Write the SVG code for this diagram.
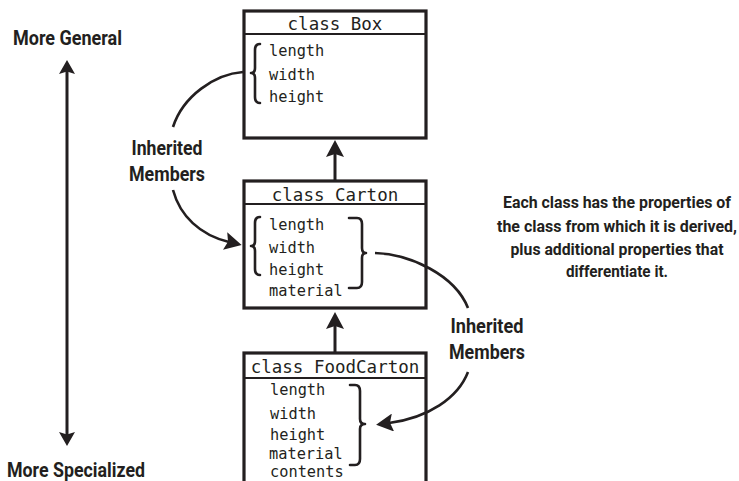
<svg xmlns="http://www.w3.org/2000/svg" width="739" height="481" viewBox="0 0 739 481">
<style>
.bg{fill:#ffffff}
.box{fill:#ffffff;stroke:#231f20;stroke-width:3.2}
.div{stroke:#231f20;stroke-width:2.2}
.mono{font-family:"DejaVu Sans Mono","Liberation Mono",monospace;fill:#231f20}
.hdr{font-size:17.5px;text-anchor:middle}
.mem{font-size:15.3px}
.lbl{font-family:Roboto,"Liberation Sans",Arial,sans-serif;font-weight:bold;fill:#231f20}
.big{font-size:19.5px}
.note{font-size:16px;text-anchor:middle}
.mid{text-anchor:middle}
.brace{fill:none;stroke:#231f20;stroke-width:2.6;stroke-linecap:round;stroke-linejoin:round}
.line{fill:none;stroke:#231f20;stroke-width:3}
.curve{fill:none;stroke:#231f20;stroke-width:2.6}
</style>
<defs>
<marker id="arr" viewBox="0 0 17 18" refX="4" refY="9" markerWidth="17" markerHeight="18" markerUnits="userSpaceOnUse" orient="auto">
<path d="M0,0 L17,9 L0,18 L3,9 z" fill="#231f20"/>
</marker>
<marker id="arrs" viewBox="0 0 14 16" refX="3" refY="8" markerWidth="14" markerHeight="16" markerUnits="userSpaceOnUse" orient="auto-start-reverse">
<path d="M0,0 L14,8 L0,16 L2.5,8 z" fill="#231f20"/>
</marker>
</defs>
<rect class="bg" x="0" y="0" width="739" height="481"/>

<g id="box">
<rect class="box" x="244" y="11" width="182" height="127"/>
<line class="div" x1="244" y1="34" x2="426" y2="34"/>
<text class="mono hdr" x="335" y="30">class Box</text>
<text class="mono mem" x="269" y="56">length</text>
<text class="mono mem" x="269" y="80">width</text>
<text class="mono mem" x="269" y="102">height</text>
<path class="brace" d="M260,44 Q255,44 255,50 L255,68 Q255,73 251,73 Q255,73 255,78 L255,97 Q255,103 260,103"/>
</g>

<g id="carton">
<rect class="box" x="244" y="181" width="182" height="127"/>
<line class="div" x1="244" y1="204" x2="426" y2="204"/>
<text class="mono hdr" x="335" y="201">class Carton</text>
<text class="mono mem" x="269" y="230">length</text>
<text class="mono mem" x="269" y="253">width</text>
<text class="mono mem" x="269" y="275">height</text>
<text class="mono mem" x="269" y="296">material</text>
<path class="brace" d="M260,217 Q255,217 255,223 L255,241 Q255,246 251,246 Q255,246 255,251 L255,269 Q255,275 260,275"/>
<path class="brace" d="M349,218 L357,218 Q362,218 362,224 L362,248 Q362,253 366,253 Q362,253 362,258 L362,282 Q362,288 357,288 L349,288"/>
</g>

<g id="foodcarton">
<rect class="box" x="244" y="353" width="182" height="140"/>
<line class="div" x1="244" y1="378" x2="426" y2="378"/>
<text class="mono hdr" x="335" y="373">class FoodCarton</text>
<text class="mono mem" x="270" y="395">length</text>
<text class="mono mem" x="270" y="419">width</text>
<text class="mono mem" x="270" y="440">height</text>
<text class="mono mem" x="269" y="459">material</text>
<text class="mono mem" x="270" y="477">contents</text>
<path class="brace" d="M350,385 L355,385 Q360,385 360,391 L360,419 Q360,424 365,424 Q360,424 360,429 L360,459 Q360,465 355,465 L350,465"/>
</g>

<g id="connectors">
<path class="line" d="M335,181 L335,153" marker-end="url(#arr)"/>
<path class="line" d="M335,353 L335,325" marker-end="url(#arr)"/>
<path class="line" d="M67,71 L67,435" marker-start="url(#arrs)" marker-end="url(#arrs)"/>
<path class="curve" d="M243,72 C215,74 183,96 173,127"/>
<path class="curve" d="M173,190 C180,216 200,235 229,242" marker-end="url(#arr)"/>
<path class="curve" d="M375,253 C410,254 455,275 468,308"/>
<path class="curve" d="M468,372 C458,398 428,418 389,423" marker-end="url(#arr)"/>
</g>

<g id="labels">
<text class="lbl big" x="13" y="45" textLength="109" lengthAdjust="spacingAndGlyphs">More General</text>
<text class="lbl big" x="7" y="477" textLength="138" lengthAdjust="spacingAndGlyphs">More Specialized</text>
<text class="lbl big mid" x="167" y="155" textLength="71" lengthAdjust="spacingAndGlyphs">Inherited</text>
<text class="lbl big mid" x="167" y="181" textLength="76" lengthAdjust="spacingAndGlyphs">Members</text>
<text class="lbl big mid" x="487" y="333" textLength="73" lengthAdjust="spacingAndGlyphs">Inherited</text>
<text class="lbl big mid" x="487" y="359" textLength="76" lengthAdjust="spacingAndGlyphs">Members</text>
<text class="lbl note" x="617" y="208" textLength="228" lengthAdjust="spacingAndGlyphs">Each class has the properties of</text>
<text class="lbl note" x="617" y="232" textLength="240" lengthAdjust="spacingAndGlyphs">the class from which it is derived,</text>
<text class="lbl note" x="617" y="255" textLength="213" lengthAdjust="spacingAndGlyphs">plus additional properties that</text>
<text class="lbl note" x="617" y="277" textLength="102" lengthAdjust="spacingAndGlyphs">differentiate it.</text>
</g>
</svg>
